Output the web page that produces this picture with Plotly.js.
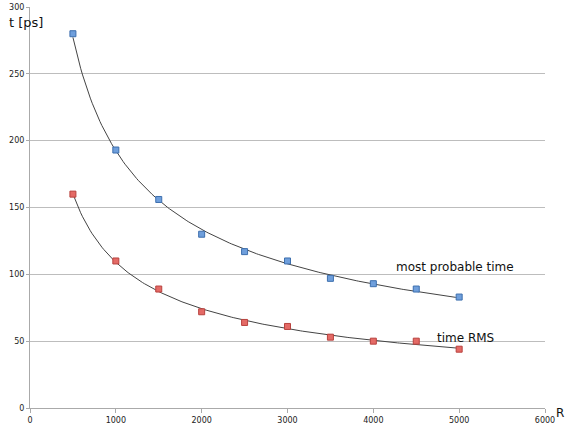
<!DOCTYPE html>
<html><head><meta charset="utf-8">
<script src="https://cdn.plot.ly/plotly-3.0.1.min.js"></script>
<style>html,body{margin:0;padding:0;background:#fff}#chart{width:565px;height:426px}</style>
</head><body><div id="chart"></div>
<script>
var R = [500, 1000, 1500, 2000, 2500, 3000, 3500, 4000, 4500, 5000];
var mostProbable = [280, 193, 156, 130, 117, 110, 97, 93, 89, 83];
var timeRMS = [160, 110, 89, 72, 64, 61, 53, 50, 50, 44];

// Power-law trendline (least squares in log space, as spreadsheet trendlines do)
function powerFit(xs, ys) {
  var n = xs.length, sx = 0, sy = 0, sxx = 0, sxy = 0;
  for (var i = 0; i < n; i++) {
    var lx = Math.log(xs[i]), ly = Math.log(ys[i]);
    sx += lx; sy += ly; sxx += lx * lx; sxy += lx * ly;
  }
  var b = (n * sxy - sx * sy) / (n * sxx - sx * sx);
  var a = Math.exp((sy - b * sx) / n);
  var tx = [], ty = [];
  var x0 = xs[0], x1 = xs[n - 1];
  for (var k = 0; k <= 200; k++) {
    var x = x0 + (x1 - x0) * k / 200;
    tx.push(x); ty.push(a * Math.pow(x, b));
  }
  return {x: tx, y: ty};
}
var fitA = powerFit(R, mostProbable);
var fitB = powerFit(R, timeRMS);

var font = "'DejaVu Sans', 'Liberation Sans', sans-serif";
var traces = [
  {x: fitA.x, y: fitA.y, mode: 'lines', line: {color: '#444', width: 1}, hoverinfo: 'skip'},
  {x: fitB.x, y: fitB.y, mode: 'lines', line: {color: '#444', width: 1}, hoverinfo: 'skip'},
  {x: R, y: mostProbable, mode: 'markers', name: 'most probable time',
   marker: {symbol: 'square', size: 6, color: '#6f9fdc', line: {color: '#3d6fae', width: 1}}},
  {x: R, y: timeRMS, mode: 'markers', name: 'time RMS',
   marker: {symbol: 'square', size: 6, color: '#e46a66', line: {color: '#b8423e', width: 1}}}
];
var layout = {
  width: 565, height: 426,
  margin: {l: 30, r: 20, t: 7, b: 18},
  paper_bgcolor: '#fff', plot_bgcolor: '#fff',
  showlegend: false,
  font: {family: font, size: 8, color: '#222'},
  xaxis: {range: [0, 6000], dtick: 1000, showgrid: false, zeroline: false,
          showline: true, linecolor: '#aaa', linewidth: 1,
          ticks: 'outside', ticklen: 4, tickcolor: '#aaa',
          tickfont: {size: 8, color: '#222', family: font}},
  yaxis: {range: [0, 300], dtick: 50, showgrid: true, gridcolor: '#bdbdbd', gridwidth: 1,
          zeroline: false, showline: true, linecolor: '#aaa', linewidth: 1,
          ticks: 'outside', ticklen: 3, tickcolor: '#aaa',
          tickfont: {size: 8, color: '#222', family: font}},
  annotations: [
    {text: 't [ps]', xref: 'paper', yref: 'paper', x: -0.045, y: 0.962, xanchor: 'left', yanchor: 'middle',
     showarrow: false, font: {size: 13, color: '#111', family: font}},
    {text: 'R', xref: 'paper', yref: 'paper', x: 1.02, y: -0.012, xanchor: 'left', yanchor: 'middle',
     showarrow: false, borderpad: 0, font: {size: 12, color: '#111', family: font}},
    {text: 'most probable time', xref: 'x', yref: 'y', x: 4950, y: 105.5, xanchor: 'center', yanchor: 'middle',
     showarrow: false, font: {size: 12, color: '#111', family: font}},
    {text: 'time RMS', xref: 'x', yref: 'y', x: 5070, y: 52.5, xanchor: 'center', yanchor: 'middle',
     showarrow: false, font: {size: 12, color: '#111', family: font}}
  ]
};
Plotly.newPlot('chart', traces, layout, {displayModeBar: false, staticPlot: true});
</script></body></html>
